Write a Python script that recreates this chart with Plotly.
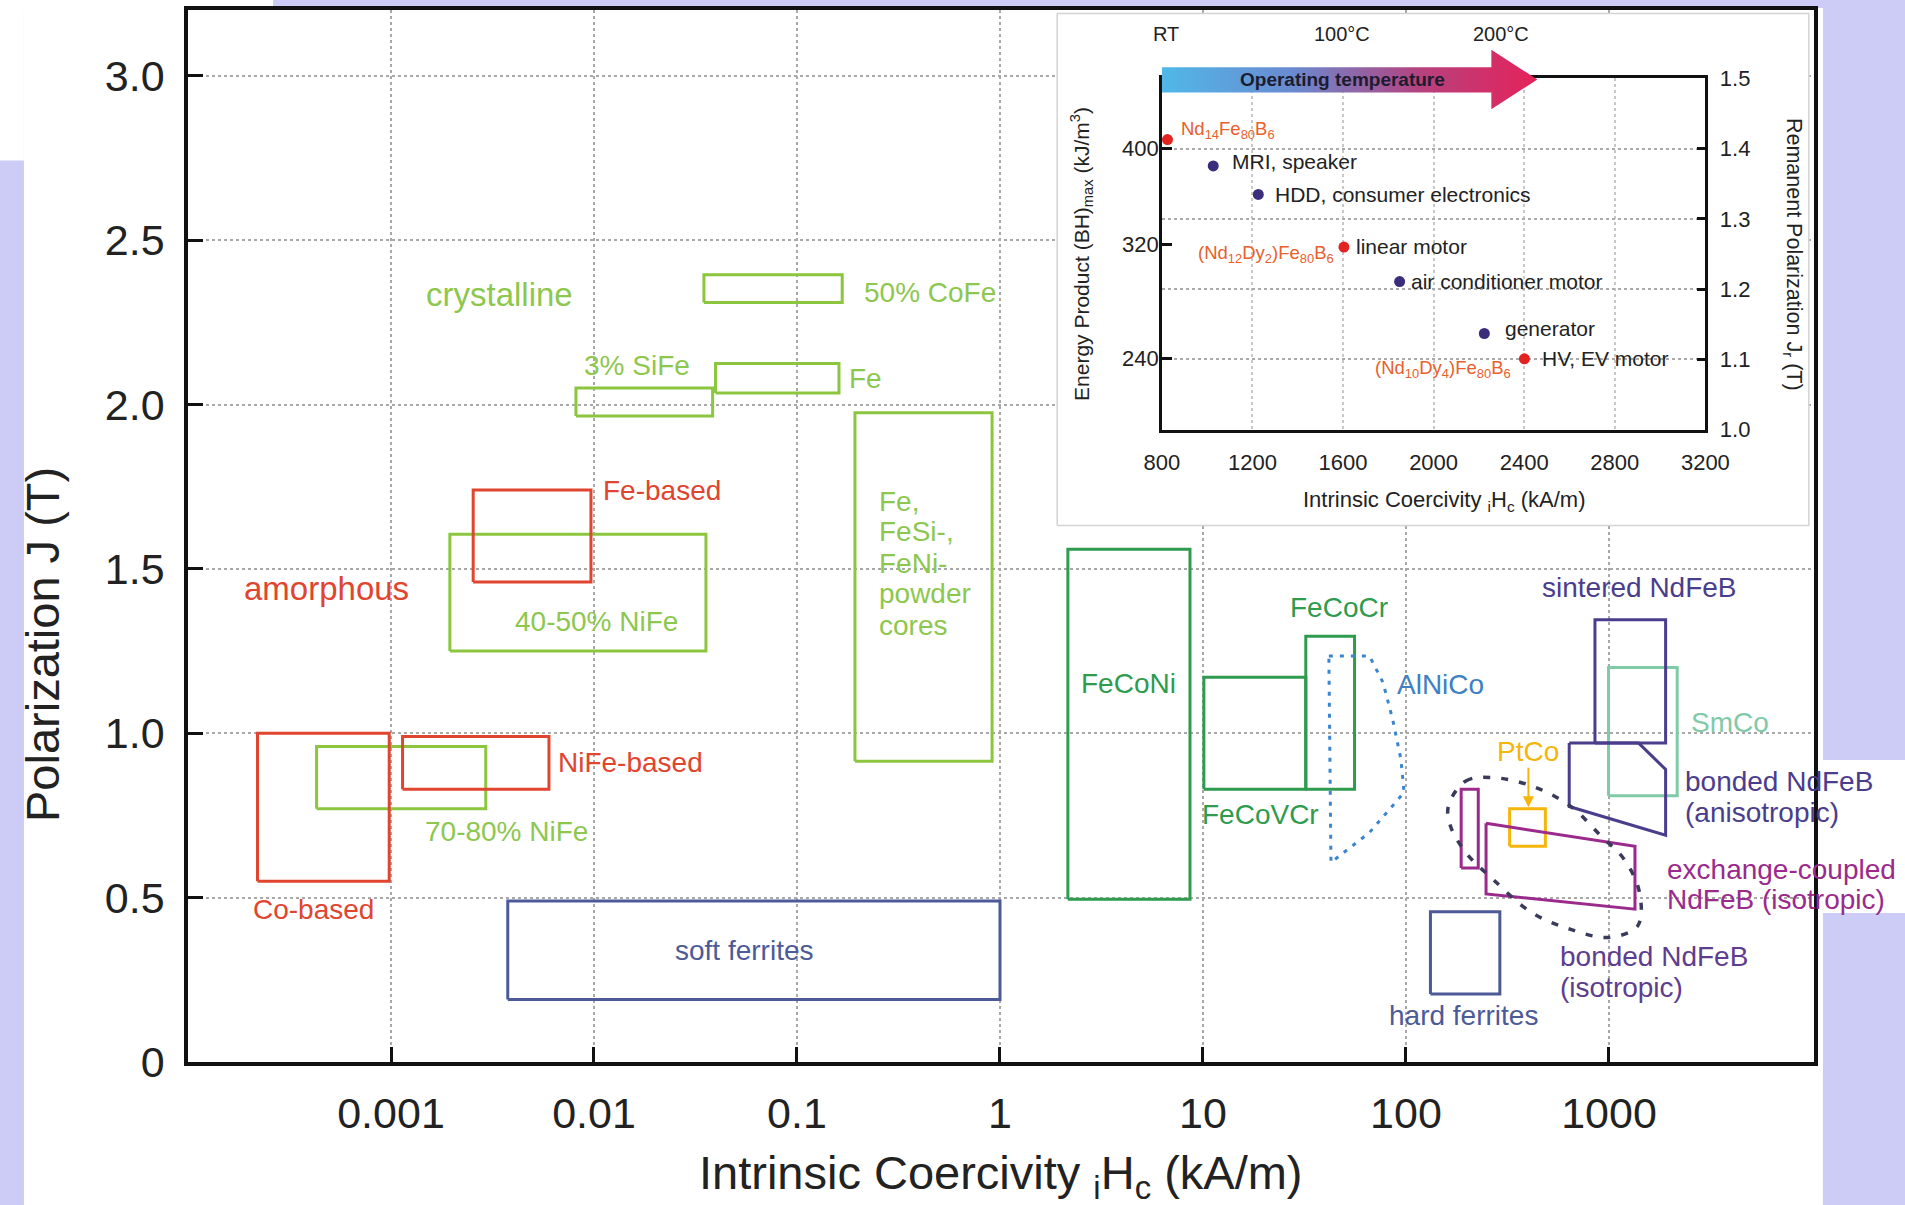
import numpy as np
import plotly.graph_objects as go

FONT = "Liberation Sans, Arial, Helvetica, sans-serif"

# ---------------- main chart data (coercivity H in kA/m, polarization J in T) ----------------
rect_names = ["70-80% NiFe", "40-50% NiFe", "3% SiFe", "Fe", "50% CoFe", "powder cores",
              "Co-based", "NiFe-based", "Fe-based",
              "soft ferrites", "hard ferrites",
              "FeCoNi", "FeCoVCr", "FeCoCr",
              "SmCo", "sintered NdFeB", "PtCo", "exchange-coupled (narrow)"]
rect_class = ["crystalline"] * 6 + ["amorphous"] * 3 + ["ferrite"] * 2 + ["fecox"] * 3 + \
             ["smco", "sintered", "ptco", "exchange"]
rect_h_lo = [0.00043, 0.00195, 0.00815, 0.0397, 0.0348, 0.193,
             0.00022, 0.00114, 0.00254,
             0.00376, 132,
             2.16, 10.1, 32.1,
             995, 853, 324, 187]
rect_h_hi = [0.00293, 0.0356, 0.0384, 0.161, 0.167, 0.914,
             0.00098, 0.0060, 0.00966,
             1.0, 290,
             8.63, 32.1, 55.8,
             2168, 1901, 486, 227]
rect_j_lo = [0.77, 1.25, 1.965, 2.035, 2.31, 0.915,
             0.55, 0.83, 1.46,
             0.19, 0.207,
             0.495, 0.83, 0.83,
             0.81, 0.97, 0.656, 0.59]
rect_j_hi = [0.96, 1.605, 2.05, 2.125, 2.395, 1.975,
             1.0, 0.99, 1.74,
             0.49, 0.457,
             1.56, 1.17, 1.295,
             1.2, 1.345, 0.77, 0.83]

aniso_h = [637, 1400, 1901, 1901, 637]
aniso_j = [0.97, 0.97, 0.89, 0.69, 0.777]
exch_h = [248, 1343, 1343, 248]
exch_j = [0.726, 0.656, 0.465, 0.511]
alnico_h = [41.7, 66.1, 77.1, 85.9, 94.4, 97.9, 66.1, 42.7]
alnico_j = [1.235, 1.235, 1.154, 1.043, 0.921, 0.820, 0.698, 0.607]
bonded_iso_h = [161.8, 197.2, 267.9, 415, 642.7, 912, 1186, 1413, 1384, 995, 642.7, 415, 267.9, 197.2, 165.6]
bonded_iso_j = [0.779, 0.855, 0.865, 0.840, 0.779, 0.688, 0.617, 0.516, 0.414, 0.379, 0.404, 0.455, 0.556, 0.637, 0.718]

ptco_arrow_h = 401
ptco_arrow_j = [0.90, 0.775]

label_text = ["crystalline", "amorphous", "50% CoFe", "3% SiFe", "Fe", "Fe-based", "40-50% NiFe",
              "NiFe-based", "70-80% NiFe", "Co-based",
              "Fe,", "FeSi-,", "FeNi-", "powder", "cores",
              "soft ferrites", "FeCoNi", "FeCoCr", "FeCoVCr", "AlNiCo", "sintered NdFeB", "SmCo", "PtCo",
              "bonded NdFeB", "(anisotropic)", "exchange-coupled", "NdFeB (isotropic)",
              "bonded NdFeB", "(isotropic)", "hard ferrites"]
label_h = [0.00344, 0.000479, 0.210, 0.0162, 0.176, 0.01086, 0.0103,
           0.00653, 0.00372, 0.000415,
           0.248, 0.248, 0.248, 0.248, 0.248,
           0.0546, 4.31, 46.8, 19.3, 88.1, 1406, 3953, 401,
           2307, 2307, 1890, 1890,
           558, 558, 191]
label_j = [2.334, 1.44, 2.341, 2.12, 2.079, 1.739, 1.340,
           0.912, 0.702, 0.465,
           1.705, 1.614, 1.517, 1.426, 1.328,
           0.339, 1.152, 1.384, 0.753, 1.149, 1.444, 1.033, 0.945,
           0.853, 0.760, 0.585, 0.495,
           0.320, 0.227, 0.141]
label_class = ["crystalline", "amorphous", "crystalline", "crystalline", "crystalline", "amorphous", "crystalline",
               "amorphous", "crystalline", "amorphous",
               "crystalline", "crystalline", "crystalline", "crystalline", "crystalline",
               "ferrite", "fecox", "fecox", "fecox", "alnico", "sintered", "smco", "ptco",
               "sintered", "sintered", "exchange", "exchange",
               "bondediso", "bondediso", "ferrite"]
label_left = {"50% CoFe", "Fe", "Fe-based", "NiFe-based", "Fe,", "FeSi-,", "FeNi-", "powder", "cores",
              "AlNiCo", "bonded NdFeB", "(anisotropic)", "exchange-coupled", "NdFeB (isotropic)", "(isotropic)"}
label_big = {"crystalline", "amorphous"}

x_tickvals = [0.001, 0.01, 0.1, 1, 10, 100, 1000]
x_ticktext = ["0.001", "0.01", "0.1", "1", "10", "100", "1000"]
y_tickvals = [0, 0.5, 1.0, 1.5, 2.0, 2.5, 3.0]
y_ticktext = ["0", "0.5", "1.0", "1.5", "2.0", "2.5", "3.0"]

# ---------------- inset data ----------------
inset_h = [825, 1027, 1226, 1604, 1850, 2224, 2401]
inset_j = [1.413, 1.3755, 1.335, 1.260, 1.211, 1.137, 1.101]
inset_is_comp = [True, False, False, True, False, False, True]
app_text = ["MRI, speaker", "HDD, consumer electronics", "linear motor", "air conditioner motor",
            "generator", "HV, EV motor"]
app_h = [1100, 1292, 1650, 1890, 2305, 2468]
app_j = [1.382, 1.335, 1.261, 1.211, 1.144, 1.101]
comp_text = ["Nd<sub>14</sub>Fe<sub>80</sub>B<sub>6</sub>",
             "(Nd<sub>12</sub>Dy<sub>2</sub>)Fe<sub>80</sub>B<sub>6</sub>",
             "(Nd<sub>10</sub>Dy<sub>4</sub>)Fe<sub>80</sub>B<sub>6</sub>"]
comp_h = [878, 1568, 2351]
comp_j = [1.426, 1.25, 1.086]
comp_anchor = ["left", "right", "right"]
inset_x_ticks = [800, 1200, 1600, 2000, 2400, 2800, 3200]
inset_j_ticks = [1.0, 1.1, 1.2, 1.3, 1.4, 1.5]
bh_tick_j = [1.401, 1.2637, 1.102]
bh_tick_text = ["400", "320", "240"]
arrow_h = [800, 2255, 2255, 2458, 2255, 2255, 800, 800]
arrow_j = [1.480, 1.480, 1.456, 1.4985, 1.541, 1.516, 1.516, 1.480]
temp_text = ["RT", "100°C", "200°C"]
temp_h = [819, 1597, 2296]

# ---------------- styles ----------------
COL = {
    "crystalline": "#8cc63f", "amorphous": "#e0452f", "ferrite": "#4d5a98", "fecox": "#2e9b4e",
    "smco": "#80caa8", "sintered": "#4a3d8c", "ptco": "#f5b50a", "exchange": "#9a2a8c",
    "alnico": "#3b86d0", "bondediso": "#5e3d8f", "ellipse": "#3a3a5c",
}
TXT = dict(COL)
TXT["crystalline"] = "#8dc74e"
TXT["alnico"] = "#3d80c4"
INK = "#222222"

fig = go.Figure()


def add_line(xs, ys, color, width=3, dash=None, shape="linear", xa="x", ya="y"):
    fig.add_trace(go.Scatter(x=xs, y=ys, mode="lines", xaxis=xa, yaxis=ya,
                             line=dict(color=color, width=width, dash=dash, shape=shape),
                             hoverinfo="skip", showlegend=False))


# white backdrop of the inset (subplot x2/y2 sits above the main plot)
fig.add_trace(go.Scatter(x=[0, 1, 1, 0, 0], y=[0, 0, 1, 1, 0], mode="lines", fill="toself",
                         fillcolor="white", line=dict(color="#d4d4d4", width=1.5),
                         xaxis="x2", yaxis="y2", hoverinfo="skip", showlegend=False))

# regions
for i in range(len(rect_names)):
    h0, h1, j0, j1 = rect_h_lo[i], rect_h_hi[i], rect_j_lo[i], rect_j_hi[i]
    add_line([h0, h1, h1, h0, h0], [j0, j0, j1, j1, j0], COL[rect_class[i]])
    if rect_names[i] == "SmCo":
        add_line(aniso_h + aniso_h[:1], aniso_j + aniso_j[:1], COL["sintered"])

add_line(exch_h + exch_h[:1], exch_j + exch_j[:1], COL["exchange"])
add_line(alnico_h + alnico_h[:1], alnico_j + alnico_j[:1], COL["alnico"], width=3, dash="4px,7px")
add_line(bonded_iso_h + bonded_iso_h[:1], bonded_iso_j + bonded_iso_j[:1], COL["ellipse"],
         width=3.5, dash="7px,11px", shape="spline")

# labels
for t, h, j, c in zip(label_text, label_h, label_j, label_class):
    fig.add_annotation(x=np.log10(h), y=j, xref="x", yref="y", text=t, showarrow=False,
                       xanchor="left" if t in label_left else "center", yanchor="middle",
                       font=dict(family=FONT, size=33 if t in label_big else 28, color=TXT[c]))

fig.add_annotation(x=np.log10(ptco_arrow_h), y=ptco_arrow_j[1], ax=np.log10(ptco_arrow_h), ay=ptco_arrow_j[0],
                   xref="x", yref="y", axref="x", ayref="y", text="", showarrow=True,
                   arrowhead=2, arrowsize=1.1, arrowwidth=2, arrowcolor=COL["ptco"])

# ---------------- inset ----------------
fig.add_trace(go.Scatter(x=[inset_x_ticks[0]], y=[inset_j_ticks[0]], mode="markers", marker=dict(opacity=0),
                         xaxis="x3", yaxis="y5", hoverinfo="skip", showlegend=False))
fig.add_trace(go.Scatter(x=inset_h, y=inset_j, mode="markers", xaxis="x3", yaxis="y3", cliponaxis=False,
                         marker=dict(size=11, color=["#e32222" if c else "#3c2c7c" for c in inset_is_comp]),
                         hoverinfo="skip", showlegend=False))
for t, h, j in zip(app_text, app_h, app_j):
    fig.add_annotation(x=h, y=j, xref="x3", yref="y3", text=t, showarrow=False, xanchor="left",
                       yanchor="middle", font=dict(family=FONT, size=21, color=INK))
for t, h, j, a in zip(comp_text, comp_h, comp_j, comp_anchor):
    fig.add_annotation(x=h, y=j, xref="x3", yref="y3", text=t, showarrow=False, xanchor=a,
                       yanchor="middle", font=dict(family=FONT, size=18.5, color="#e8602c"))

# temperature arrow
fig.add_trace(go.Scatter(x=arrow_h, y=arrow_j, mode="lines", fill="toself", xaxis="x4", yaxis="y4",
                         line=dict(width=0, color="rgba(0,0,0,0)"),
                         fillgradient=dict(type="horizontal",
                                           colorscale=[[0, "#50b8e8"], [0.35, "#6a8ad0"],
                                                       [0.7, "#b8407c"], [1, "#e5225a"]]),
                         hoverinfo="skip", showlegend=False))
fig.add_annotation(x=1597, y=1.498, xref="x4", yref="y4", text="<b>Operating temperature</b>", showarrow=False,
                   xanchor="center", yanchor="middle",
                   font=dict(family=FONT, size=19, color="#1c1c30"))
for t, h in zip(temp_text, temp_h):
    fig.add_annotation(x=h, y=0.9768, xref="x4", yref="paper", text=t, showarrow=False,
                       xanchor="center", yanchor="middle",
                       font=dict(family=FONT, size=20, color=INK))

# inset titles
fig.add_annotation(x=0.773, y=0.5333, xref="paper", yref="paper", showarrow=False,
                   xanchor="center", yanchor="middle",
                   text="Intrinsic Coercivity <sub>i</sub>H<sub>c</sub> (kA/m)",
                   font=dict(family=FONT, size=22, color=INK))
fig.add_annotation(x=0.5498, y=0.7681, xref="paper", yref="paper", showarrow=False, textangle=-90,
                   xanchor="center", yanchor="middle",
                   text="Energy Product (BH)<sub>max</sub> (kJ/m<sup>3</sup>)",
                   font=dict(family=FONT, size=21, color=INK))
fig.add_annotation(x=0.9865, y=0.7681, xref="paper", yref="paper", showarrow=False, textangle=90,
                   xanchor="center", yanchor="middle",
                   text="Remanent Polarization J<sub>r</sub> (T)",
                   font=dict(family=FONT, size=21.5, color=INK))

# main titles
fig.add_annotation(x=0.5, y=-0.1084, xref="paper", yref="paper", showarrow=False,
                   xanchor="center", yanchor="middle",
                   text="Intrinsic Coercivity <sub>i</sub>H<sub>c</sub> (kA/m)",
                   font=dict(family=FONT, size=47, color=INK))
fig.add_annotation(x=-0.0898, y=0.3973, xref="paper", yref="paper", showarrow=False, textangle=-90,
                   xanchor="center", yanchor="middle",
                   text="Polarization J (T)", font=dict(family=FONT, size=47, color=INK))

# page background patches
for x0, x1, y0, y1 in [(-0.1009, 1.0055, -0.14, 1.0019), (-0.12, -0.1009, 0.857, 1.01),
                       (-0.12, 0.0523, 0.9996, 1.01), (1.0055, 1.06, 0.1416, 0.2871)]:
    fig.add_shape(type="rect", xref="paper", yref="paper", x0=x0, x1=x1, y0=y0, y1=y1,
                  fillcolor="white", line_width=0, layer="below")

axis_common = dict(showline=True, linecolor="#111111", mirror=True, zeroline=False)
fig.update_layout(
    width=1905, height=1205,
    margin=dict(l=188, r=91, t=10, b=143, autoexpand=False),
    paper_bgcolor="#ccccf6", plot_bgcolor="rgba(0,0,0,0)", showlegend=False,
    xaxis=dict(type="log", range=[-4, 4.01], domain=[0, 1], anchor="y",
               tickvals=x_tickvals, ticktext=x_ticktext, ticks="inside", ticklen=15, tickwidth=3,
               tickcolor="#111111", linewidth=3.5, showgrid=True, gridcolor="#a8a8a8", griddash="dot",
               gridwidth=1.5, ticklabelstandoff=11,
               tickfont=dict(family=FONT, size=43, color=INK), **axis_common),
    yaxis=dict(range=[0, 3.2], domain=[0, 1], anchor="x",
               tickvals=y_tickvals, ticktext=y_ticktext, ticks="inside", ticklen=15, tickwidth=3,
               tickcolor="#111111", linewidth=3.5, showgrid=True, gridcolor="#a8a8a8", griddash="dot",
               gridwidth=1.5, ticklabelstandoff=11,
               tickfont=dict(family=FONT, size=43, color=INK), **axis_common),
    xaxis2=dict(domain=[0.5332, 0.9982], range=[-0.003, 1.003], visible=False, anchor="y2"),
    yaxis2=dict(domain=[0.5086, 0.9981], range=[-0.003, 1.003], visible=False, anchor="x2"),
    xaxis3=dict(domain=[0.5989, 0.9332], range=[800, 3200], anchor="y3",
                tickvals=inset_x_ticks, ticks="", linewidth=3, showgrid=True, gridcolor="#c8c8c8",
                griddash="dot", gridwidth=1.5, ticklabelstandoff=11,
                tickfont=dict(family=FONT, size=22, color=INK), **axis_common),
    yaxis3=dict(domain=[0.6010, 0.9349], range=[1.0, 1.5], anchor="x3", side="right",
                tickvals=inset_j_ticks, tickformat=".1f", ticks="inside", ticklen=8, tickwidth=2.5,
                tickcolor="#111111", linewidth=3, showgrid=True, gridcolor="#aaaaaa", griddash="dot",
                gridwidth=1.5, ticklabelstandoff=7,
                tickfont=dict(family=FONT, size=22, color=INK), **axis_common),
    yaxis5=dict(overlaying="y3", anchor="x3", side="left", range=[1.0, 1.5],
                tickvals=bh_tick_j, ticktext=bh_tick_text, ticks="inside", ticklen=10, tickwidth=2.5,
                tickcolor="#111111", showline=False, showgrid=False, zeroline=False, ticklabelstandoff=2,
                tickfont=dict(family=FONT, size=22, color=INK)),
    xaxis4=dict(domain=[0.5989, 0.9332], range=[800, 3200], visible=False, anchor="y4"),
    yaxis4=dict(domain=[0.6010, 0.9750], range=[1.0, 1.56], visible=False, anchor="x4"),
)

fig.write_html("out.html", config={"displayModeBar": False},
               post_script="document.body.style.margin='0px';document.body.style.padding='0px';"
                           "document.body.style.overflow='hidden';")
